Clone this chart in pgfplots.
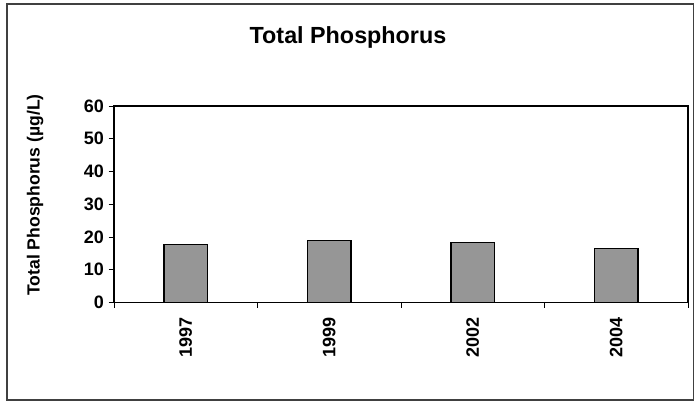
\documentclass[border=0pt]{standalone}
\usepackage{pgfplots}
\pgfplotsset{compat=1.18}
\usepackage{fontspec}
\setmainfont{Liberation Sans}
\definecolor{bargray}{HTML}{969696}
\begin{document}
\begin{tikzpicture}
\useasboundingbox (-85.5pt,-73.9pt) rectangle (435pt,226.9pt);
\begin{axis}[
  at={(0pt,0pt)}, anchor=south west,
  scale only axis,
  width=430.5pt, height=147.4pt,
  xmin=0.5, xmax=4.5,
  ymin=0, ymax=60,
  ytick={0,10,...,60},
  xtick={1,2,3,4},
  xticklabels={1997,1999,2002,2004},
  minor xtick={0.5,1.5,2.5,3.5,4.5},
  major x tick style={draw=none},
  tick align=outside,
  xtick pos=bottom, ytick pos=left,
  major tick length=4pt, minor tick length=4pt,
  every tick/.style={black, line width=0.6pt},
  axis line style={line width=1.1pt},
  /pgf/number format/assume math mode=true,
  ticklabel style={font=\fontsize{13.5}{15}\selectfont\bfseries},
  xticklabel style={rotate=90, anchor=east},
  xticklabel shift=4pt,
]
\addplot[ybar, bar width=32.6pt, fill=bargray, draw=black, line width=1.1pt]
  coordinates {(1,17.7) (2,19.0) (3,18.3) (4,16.5)};
\end{axis}
\node[font=\fontsize{17.5}{20}\selectfont\bfseries] at (175.5pt,199pt) {Total Phosphorus};
\node[rotate=90, font=\fontsize{13.2}{15}\selectfont\bfseries] at (-59.25pt,80.6pt) {Total Phosphorus (µg/L)};
\draw[line width=1.1pt, black!75] (-80.25pt,-73.1pt) rectangle (434.6pt,223.9pt);
\end{tikzpicture}
\end{document}
